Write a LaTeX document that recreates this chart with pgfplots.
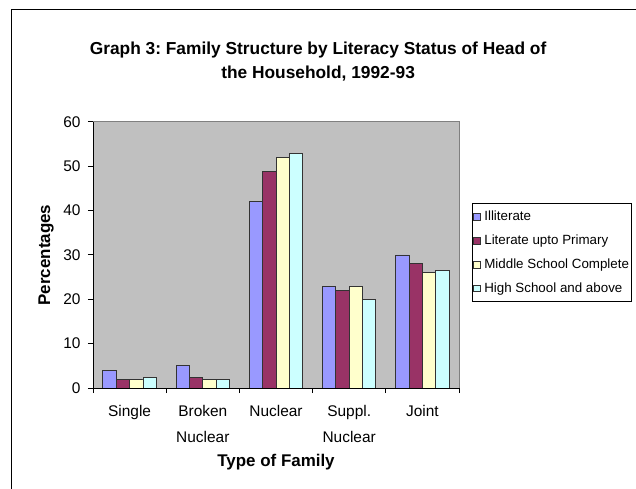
\documentclass[border=0pt]{standalone}
\usepackage{fontspec}
\setmainfont{Liberation Sans}
\usepackage{pgfplots}
\pgfplotsset{compat=1.18}

\definecolor{illit}{HTML}{9999FF}
\definecolor{litprim}{HTML}{993366}
\definecolor{midsch}{HTML}{FFFFCC}
\definecolor{highsch}{HTML}{CCFFFF}
\definecolor{plotgray}{HTML}{C0C0C0}

\begin{document}
\frenchspacing
\begin{tikzpicture}
\path[use as bounding box] (0,0) rectangle (636bp,489bp);
\draw[line width=1.3bp] (11.5bp,0) -- (11.5bp,479.5bp) -- (636bp,479.5bp);
\begin{axis}[
    at={(93bp,101bp)}, anchor=south west,
    scale only axis, width=366bp, height=266bp,
    ybar=0pt, bar width=13.35bp,
    xmin=-0.5, xmax=4.5, ymin=0, ymax=60,
    axis background/.style={fill=plotgray, draw=gray, line width=1bp},
    axis x line*=bottom, axis y line*=left,
    axis line style={black, line width=1bp},
    xtick={-0.5,0.5,1.5,2.5,3.5,4.5},
    x tick label as interval,
    xticklabels={Single,{Broken\\Nuclear},Nuclear,{Suppl.\\Nuclear},Joint},
    xticklabel style={align=center, yshift=-9bp, font=\fontsize{15.5}{26}\selectfont},
    ytick={0,10,...,60},
    yticklabel style={xshift=-4bp, font=\fontsize{15.5}{18}\selectfont},
    /pgf/number format/assume math mode=true,
    tick align=outside, major tick length=5bp,
    tick style={black, line width=1bp},
    title={Graph 3: Family Structure by Literacy Status of Head of\\the Household, 1992-93},
    title style={at={(axis description cs:0.615,1.205)}, anchor=center, align=center,
        font=\bfseries\fontsize{17.4}{24}\selectfont},
    xlabel={Type of Family},
    xlabel style={at={(axis description cs:0.5,-0.277)}, anchor=center,
        font=\bfseries\fontsize{17}{19}\selectfont},
    ylabel={Percentages},
    ylabel style={at={(axis description cs:-0.128,0.5)}, anchor=center, rotate=0,
        font=\bfseries\fontsize{17}{19}\selectfont},
    legend style={at={(axis description cs:1.0355,0.695)}, anchor=north west,
        draw=black, line width=1bp, font=\fontsize{13.4}{15}\selectfont,
        row sep=8.8bp, inner xsep=0.5bp, inner ysep=5.5bp},
    legend cell align=left,
    legend image code/.code={\draw[#1, line width=0.8bp] (0.5bp,-3.3bp) rectangle (7.1bp,3.3bp);
        \path (9bp,0bp);},
]
% Illiterate
\addplot[fill=illit, draw=black!80, line width=0.9bp] coordinates {(0,4) (1,5) (2,42) (3,23) (4,30)};
% Literate upto Primary
\addplot[fill=litprim, draw=black!80, line width=0.9bp] coordinates {(0,2) (1,2.4) (2,48.8) (3,22) (4,28)};
% Middle School Complete
\addplot[fill=midsch, draw=black!80, line width=0.9bp] coordinates {(0,2) (1,2) (2,52) (3,23) (4,26)};
% High School and above
\addplot[fill=highsch, draw=black!80, line width=0.9bp] coordinates {(0,2.4) (1,2) (2,52.9) (3,20) (4,26.5)};
\legend{Illiterate, Literate upto Primary, Middle School Complete, High School and above}
\end{axis}
\end{tikzpicture}
\end{document}
